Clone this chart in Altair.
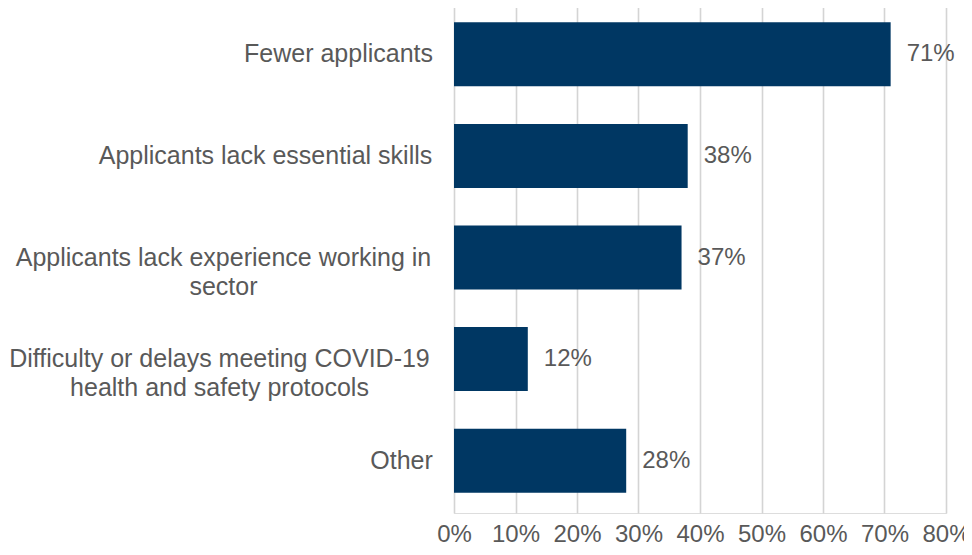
import altair as alt
import pandas as pd

categories = [
    "Fewer applicants",
    "Applicants lack essential skills",
    "Applicants lack experience working in|sector",
    "Difficulty or delays meeting COVID-19|health and safety protocols",
    "Other",
]
values = [0.71, 0.38, 0.37, 0.12, 0.28]
x_ticks = [0, 0.1, 0.2, 0.3, 0.4, 0.5, 0.6, 0.7, 0.8]

df = pd.DataFrame({"category": categories, "value": values})

TEXT = "#595959"
BAR = "#003763"
FONT = "Liberation Sans"

# per-label padding so each wrapped label block is centred like the original
pad_cond = [
    {"test": f"datum.value == '{categories[0]}'", "value": 116},
    {"test": f"datum.value == '{categories[1]}'", "value": 189},
    {"test": f"datum.value == '{categories[2]}'", "value": 231},
    {"test": f"datum.value == '{categories[3]}'", "value": 235},
]

y_enc = alt.Y(
    "category:N",
    sort=categories,
    scale=alt.Scale(paddingInner=0.37, paddingOuter=0.2),
    axis=alt.Axis(
        title=None,
        labelExpr="split(datum.label, '|')",
        labelAlign="center",
        labelBaseline="middle",
        labelPadding={"condition": pad_cond, "value": 53},
        labelLineHeight=29,
        labelFontSize=25,
        labelFont=FONT,
        labelColor=TEXT,
        labelLimit=600,
        ticks=False,
        tickSize=0,
        domain=False,
        grid=False,
    ),
)

x_enc = alt.X(
    "value:Q",
    scale=alt.Scale(domain=[0, 0.8], nice=False),
    axis=alt.Axis(
        title=None,
        values=x_ticks,
        format=".0%",
        labelFontSize=24,
        labelFont=FONT,
        labelColor=TEXT,
        labelPadding=9,
        ticks=False,
        tickSize=0,
        domain=False,
        grid=True,
        gridColor="#d4d4d4",
        gridWidth=1.6,
        labelFlush=False,
    ),
)

bars = alt.Chart(df).mark_bar(color=BAR).encode(x=x_enc, y=y_enc)

labels = alt.Chart(df).mark_text(
    align="left", baseline="middle", dx=16, fontSize=24, font=FONT, color=TEXT
).encode(
    x=alt.X("value:Q"),
    y=alt.Y("category:N", sort=categories),
    text=alt.Text("value:Q", format=".0%"),
)

chart = (
    alt.layer(bars, labels)
    .properties(
        width=492,
        height=511,
        autosize=alt.AutoSizeParams(type="none"),
        padding={"left": 446, "top": -6, "right": 18, "bottom": 34},
    )
    .configure_view(stroke=None)
    .configure(background="white")
)

chart.save("out.html", embed_options={"renderer": "svg", "actions": False})
